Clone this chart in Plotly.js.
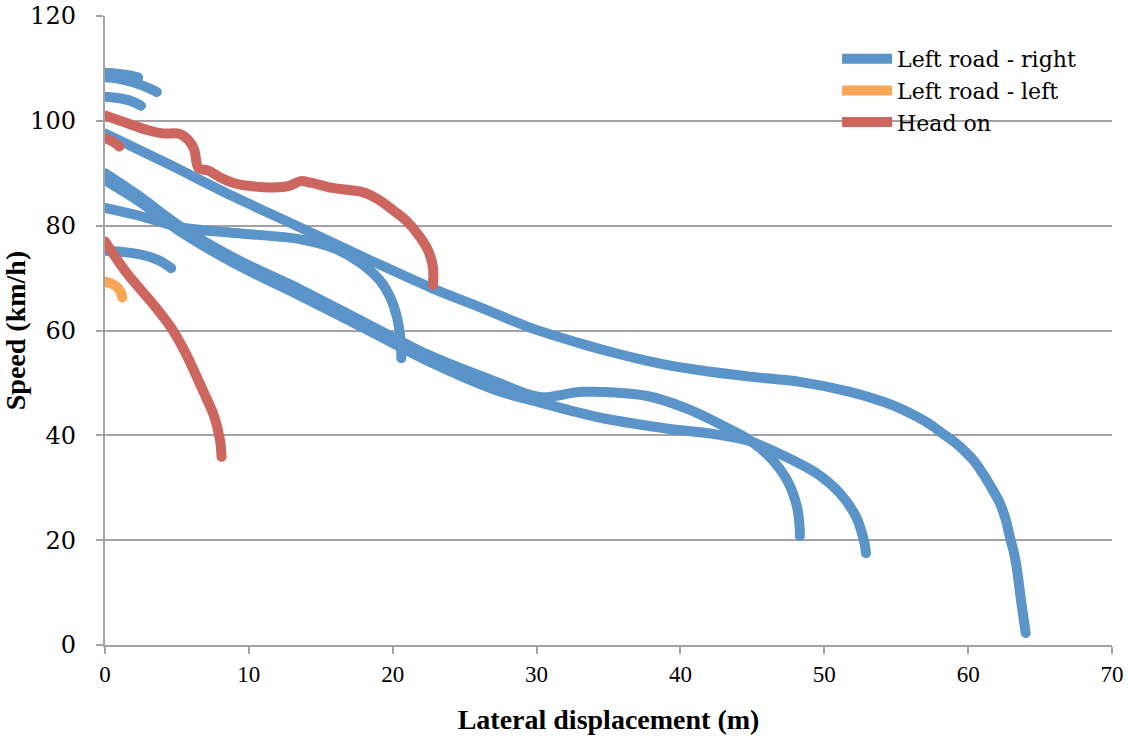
<!DOCTYPE html>
<html>
<head>
<meta charset="utf-8">
<script src="https://cdn.plot.ly/plotly-3.0.1.min.js"></script>
<style>
html,body{margin:0;padding:0;background:#fff;}
#chart{width:1128px;height:736px;}
.scatterlayer path.js-line{stroke-linecap:round !important;stroke-linejoin:round !important;}
</style>
</head>
<body>
<div id="chart"></div>
<script>
// ---- data ----
var seriesNames = ["Left road - right", "Left road - left", "Head on"];
var xTicks = [0, 10, 20, 30, 40, 50, 60, 70];
var yTicks = [0, 20, 40, 60, 80, 100, 120];

// Left road - right (blue) runs
var blueAx = [0, 0.8, 1.6, 2.3];
var blueAy = [109.2, 109.0, 108.7, 108.3];
var blueBx = [0, 1, 2, 3, 3.6];
var blueBy = [108.3, 108.0, 107.3, 106.3, 105.5];
var blueCx = [0, 1, 1.8, 2.5];
var blueCy = [104.6, 104.3, 103.8, 102.9];
var blueDx = [0, 4.3, 8.9, 13.6, 18.2, 22.8, 26, 29.5, 33.2, 35.3, 37.7, 39.5, 41.1, 44.8, 48.3, 51.8, 54.1, 55.3, 56.4, 57.4, 58.2, 59.1, 59.9, 60.5, 61.0, 61.6, 62.2, 62.6, 62.9, 63.2, 63.4, 63.7, 64.0];
var blueDy = [97.6, 91.9, 85.6, 79.6, 73.7, 68.0, 64.5, 60.6, 57.4, 55.8, 54.2, 53.2, 52.5, 51.2, 50.2, 48.3, 46.4, 45.1, 43.6, 42.0, 40.4, 38.6, 36.6, 34.8, 32.8, 30.1, 27.1, 24.0, 20.6, 17.4, 14.3, 8.0, 2.3];
var blueEx = [0, 2.5, 5.2, 9, 13.6, 16, 17.7, 19.1, 19.8, 20.3, 20.55, 20.6];
var blueEy = [83.4, 81.8, 79.7, 78.6, 77.4, 75.6, 73, 69.6, 66.5, 62.5, 58, 54.7];
var blueFx = [0, 2.5, 5, 9, 13.6, 18.2, 22.6, 27.2, 30.2, 33.2, 37.7, 40.7, 43.4, 44.8, 46.2, 47.4, 48.1, 48.3, 48.3];
var blueFy = [90.0, 85.4, 80.3, 73.8, 67.8, 61.3, 55.2, 50.2, 47.3, 48.3, 47.5, 44.8, 41.2, 39.1, 35.9, 31.5, 26.4, 21.9, 20.8];
var blueGx = [0, 2.5, 5, 9, 13.6, 18.2, 22.6, 27.2, 30.2, 34.2, 38.8, 42.7, 44.8, 47.1, 49.5, 51.1, 52.2, 52.8, 52.9];
var blueGy = [88.7, 84.4, 79.3, 72.8, 66.6, 60.2, 54.0, 48.6, 46.3, 43.5, 41.4, 40.1, 38.9, 36.2, 32.7, 28.9, 24.5, 19.4, 17.5];
var blueHx = [0, 1.5, 2.8, 3.8, 4.6];
var blueHy = [75.2, 74.9, 74.3, 73.3, 71.9];

// Left road - left (orange)
var orangeAx = [0, 0.4, 0.8, 1.1, 1.2];
var orangeAy = [69.3, 69.0, 68.4, 67.3, 66.3];

// Head on (red)
var redAx = [0, 1.6, 3, 4, 5.2, 5.8, 6.2, 6.5, 7.2, 8, 9, 10, 11.7, 12.8, 13.6, 14.3, 15.8, 17.9, 19, 20, 21, 21.9, 22.5, 22.8, 22.8];
var redAy = [101, 99.5, 98.2, 97.6, 97.5, 96.3, 94.5, 91, 90.5, 89.2, 88.1, 87.6, 87.3, 87.6, 88.5, 88.2, 87.2, 86.4, 85, 83, 80.8, 77.8, 75, 72, 68.7];
var redBx = [0, 0.5, 1.0];
var redBy = [96.7, 96.1, 95.1];
var redCx = [0, 1.5, 3.5, 4.7, 5.6, 6.7, 7.6, 8, 8.1];
var redCy = [77, 71, 64.5, 60.1, 55.7, 49.2, 43.5, 39, 35.9];

// ---- styling ----
var colors = ["#5b94c9", "#f9a658", "#cc665f"];
var LW = 10;

function tr(x, y, k, show) {
  return {
    x: x, y: y, type: "scatter", mode: "lines",
    name: seriesNames[k], legendgroup: "g" + k, showlegend: show,
    line: {color: colors[k], width: LW, shape: "spline", smoothing: 0.9},
    hoverinfo: "x+y"
  };
}

var data = [
  tr(blueAx, blueAy, 0, true),
  tr(blueBx, blueBy, 0, false),
  tr(blueCx, blueCy, 0, false),
  tr(blueDx, blueDy, 0, false),
  tr(blueEx, blueEy, 0, false),
  tr(blueFx, blueFy, 0, false),
  tr(blueGx, blueGy, 0, false),
  tr(blueHx, blueHy, 0, false),
  tr(orangeAx, orangeAy, 1, true),
  tr(redAx, redAy, 2, true),
  tr(redBx, redBy, 2, false),
  tr(redCx, redCy, 2, false)
];

var gridC = "#a3a3a3";
var layout = {
  width: 1128, height: 736,
  margin: {l: 105, r: 16, t: 16, b: 91},
  paper_bgcolor: "#ffffff", plot_bgcolor: "#ffffff",
  showlegend: true,
  legend: {
    x: 0.727, y: 0.965, xanchor: "left", yanchor: "top",
    bgcolor: "rgba(0,0,0,0)", borderwidth: 0,
    font: {family: "DejaVu Serif, serif", size: 22, color: "#000"},
    itemwidth: 50, tracegroupgap: 0
  },
  xaxis: {
    range: [0, 70], tickvals: xTicks, ticktext: xTicks.map(String),
    showgrid: false, zeroline: false,
    showline: true, linecolor: gridC, linewidth: 2,
    ticks: "outside", ticklen: 7, tickwidth: 2, tickcolor: gridC,
    tickfont: {family: "Liberation Serif, serif", size: 23, color: "#000"},
    title: {text: "<b>Lateral displacement (m)</b>", standoff: 24,
            font: {family: "Liberation Serif, serif", size: 28, color: "#000"}},
    automargin: false
  },
  yaxis: {
    range: [0, 120], tickvals: yTicks,
    ticktext: yTicks.map(function (v) { return v + "\u00a0\u00a0"; }),
    showgrid: true, gridcolor: gridC, gridwidth: 2, zeroline: false,
    showline: true, linecolor: gridC, linewidth: 2,
    ticks: "outside", ticklen: 7, tickwidth: 2, tickcolor: gridC,
    tickfont: {family: "DejaVu Serif, serif", size: 24, color: "#000"},
    title: {text: "<b>Speed (km/h)</b>", standoff: 18,
            font: {family: "Liberation Serif, serif", size: 28, color: "#000"}},
    automargin: false
  }
};

Plotly.newPlot("chart", data, layout, {displayModeBar: false, staticPlot: true});
</script>
</body>
</html>
